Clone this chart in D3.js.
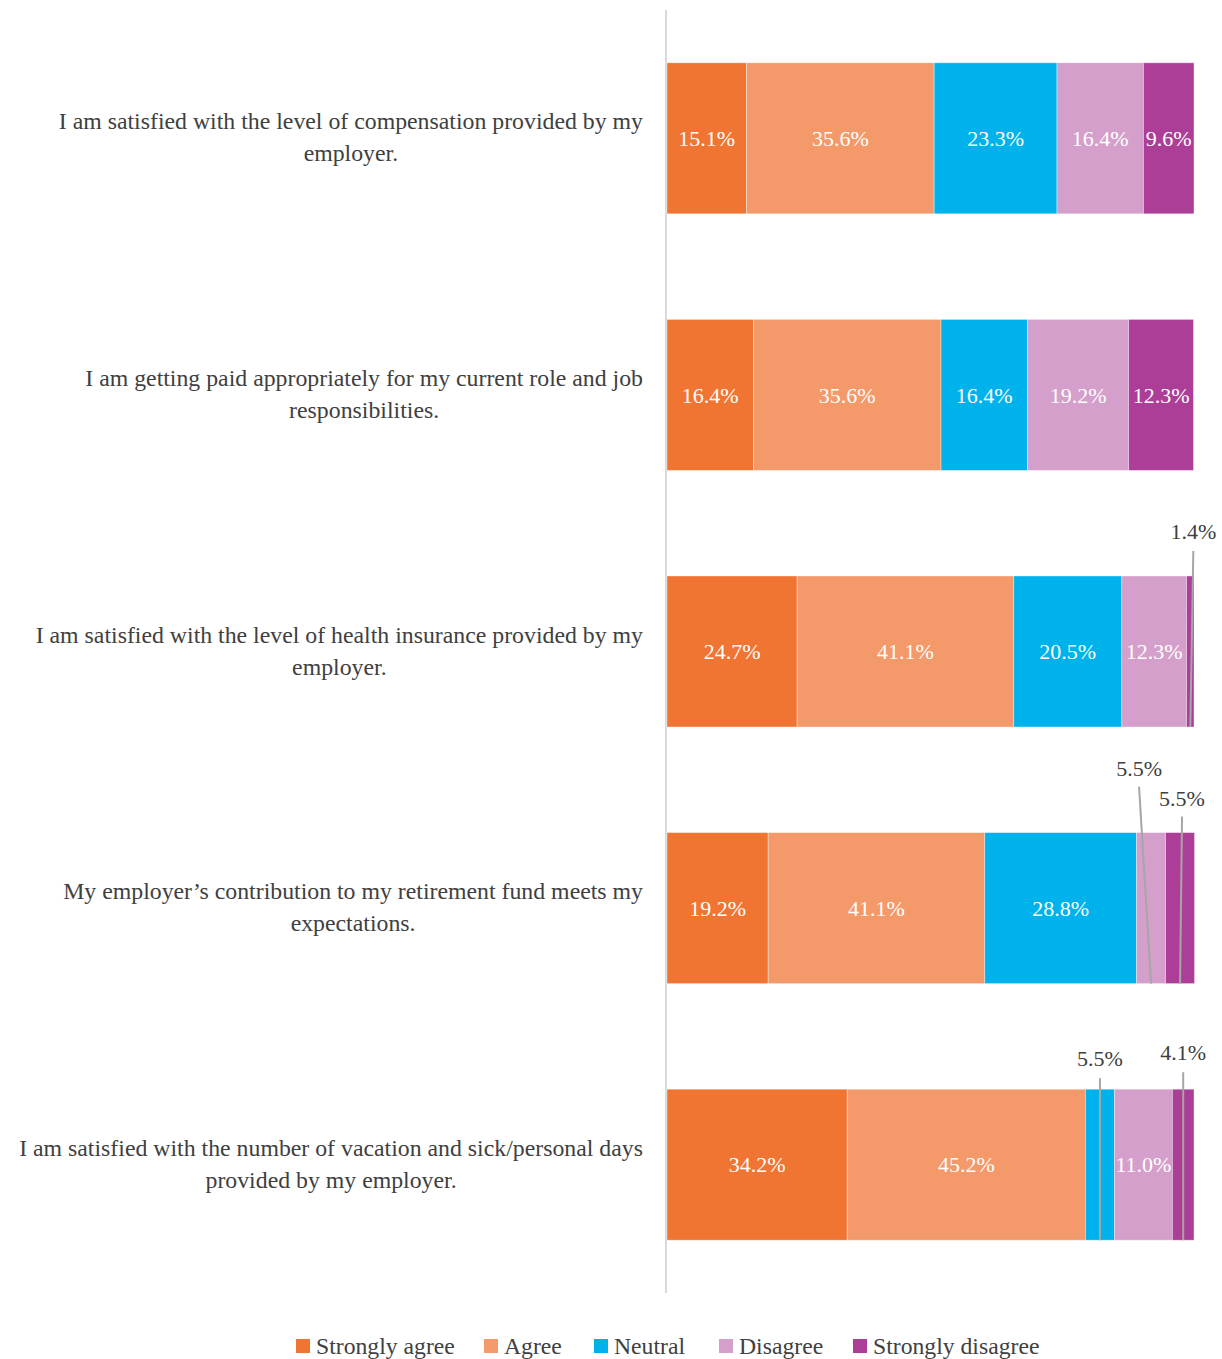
<!DOCTYPE html>
<html><head><meta charset="utf-8">
<script src="https://cdn.jsdelivr.net/npm/d3@7/dist/d3.min.js"></script>
<style>body{margin:0;background:#fff}svg{display:block}text{font-family:"Liberation Serif","Times New Roman",serif}</style>
</head><body>
<svg id="c" width="1222" height="1359"></svg>
<script>
const questions = [
  ["I am satisfied with the level of compensation provided by my", "employer."],
  ["I am getting paid appropriately for my current role and job", "responsibilities."],
  ["I am satisfied with the level of health insurance provided by my", "employer."],
  ["My employer\u2019s contribution to my retirement fund meets my", "expectations."],
  ["I am satisfied with the number of vacation and sick/personal days", "provided by my employer."]
];
const seriesNames = ["Strongly agree", "Agree", "Neutral", "Disagree", "Strongly disagree"];
const stronglyAgree = [15.1, 16.4, 24.7, 19.2, 34.2];
const agree = [35.6, 35.6, 41.1, 41.1, 45.2];
const neutral = [23.3, 16.4, 20.5, 28.8, 5.5];
const disagree = [16.4, 19.2, 12.3, 5.5, 11.0];
const stronglyDisagree = [9.6, 12.3, 1.4, 5.5, 4.1];
const colors = ["#F07533", "#F4996A", "#00B2EC", "#D59FCB", "#AC3E97"];

// callouts for small segments: row, series index, label dx from segment center, label baseline / line top offsets from bar top
const callouts = [
  {row: 2, s: 4, dx: 3, ly: -37, lt: -25},
  {row: 3, s: 3, dx: -12, ly: -57, lt: -46},
  {row: 3, s: 4, dx: 2, ly: -27, lt: -16},
  {row: 4, s: 2, dx: 0, ly: -23, lt: -11},
  {row: 4, s: 4, dx: 0, ly: -29, lt: -17}
];

const values = [stronglyAgree, agree, neutral, disagree, stronglyDisagree];
const rows = questions.map((q, i) => {
  let acc = 0;
  const segs = values.map((arr, s) => { const v = arr[i]; const seg = {s, v, x0: acc, x1: acc + v}; acc += v; return seg; });
  return {i, q, segs};
});

const svg = d3.select("#c");
const x = d3.scaleLinear().domain([0, 100]).range([667, 1194]);
const y = d3.scaleBand().domain(d3.range(questions.length)).range([10, 1293]).paddingInner(0.4115).paddingOuter(0.4115 / 2);

svg.append("line").attr("x1", 666).attr("x2", 666).attr("y1", 10).attr("y2", 1293)
  .attr("stroke", "#d9d9d9").attr("stroke-width", 2);

const fmt = v => v.toFixed(1) + "%";
const g = svg.append("g");
const rowG = g.selectAll("g.row").data(rows).join("g").attr("class", "row");
rowG.selectAll("rect").data(d => d.segs.map(s => ({...s, row: d.i}))).join("rect")
  .attr("x", d => x(d.x0)).attr("width", d => x(d.x1) - x(d.x0))
  .attr("y", d => y(d.row)).attr("height", y.bandwidth())
  .attr("fill", d => colors[d.s])
  .attr("stroke", "rgba(255,255,255,0.45)").attr("stroke-width", 0.8);

const isCallout = (r, s) => callouts.some(c => c.row === r && c.s === s);
rowG.selectAll("text.val").data(d => d.segs.map(s => ({...s, row: d.i})).filter(s => !isCallout(s.row, s.s))).join("text")
  .attr("class", "val")
  .attr("x", d => (x(d.x0) + x(d.x1)) / 2).attr("y", d => y(d.row) + y.bandwidth() / 2)
  .attr("dy", "0.35em").attr("text-anchor", "middle")
  .attr("fill", "#fff").attr("font-size", 22).text(d => fmt(d.v));

callouts.forEach(c => {
  const seg = rows[c.row].segs[c.s];
  const cx = (x(seg.x0) + x(seg.x1)) / 2;
  const top = y(c.row), bot = y(c.row) + y.bandwidth();
  svg.append("line").attr("x1", cx + c.dx).attr("y1", top + c.lt).attr("x2", cx).attr("y2", bot)
    .attr("stroke", "#a6a6a6").attr("stroke-width", 2);
  svg.append("text").attr("x", cx + c.dx).attr("y", top + c.ly).attr("text-anchor", "middle")
    .attr("fill", "#404040").attr("font-size", 22).text(fmt(seg.v));
});

const labelSize = 23.8;
rows.forEach(r => {
  const t = svg.append("text").attr("fill", "#404040").attr("font-size", labelSize).attr("text-anchor", "middle");
  const probe = svg.append("text").attr("font-size", labelSize).text(r.q[0]);
  const w = probe.node().getComputedTextLength(); probe.remove();
  const cx = 643 - w / 2;
  const cy = y(r.i) + y.bandwidth() / 2;
  r.q.forEach((line, k) => {
    t.append("tspan").attr("x", cx).attr("y", cy - 9 + k * 32).text(line);
  });
});

const legX = [296, 484, 594, 719, 853];
const leg = svg.append("g").selectAll("g").data(seriesNames).join("g")
  .attr("transform", (d, i) => `translate(${legX[i]},1346)`);
leg.append("rect").attr("x", 0).attr("y", -7).attr("width", 14).attr("height", 14).attr("fill", (d, i) => colors[i]);
leg.append("text").attr("x", 20).attr("dy", "0.35em").attr("font-size", 23.7).attr("fill", "#404040").text(d => d);
</script>
</body></html>
